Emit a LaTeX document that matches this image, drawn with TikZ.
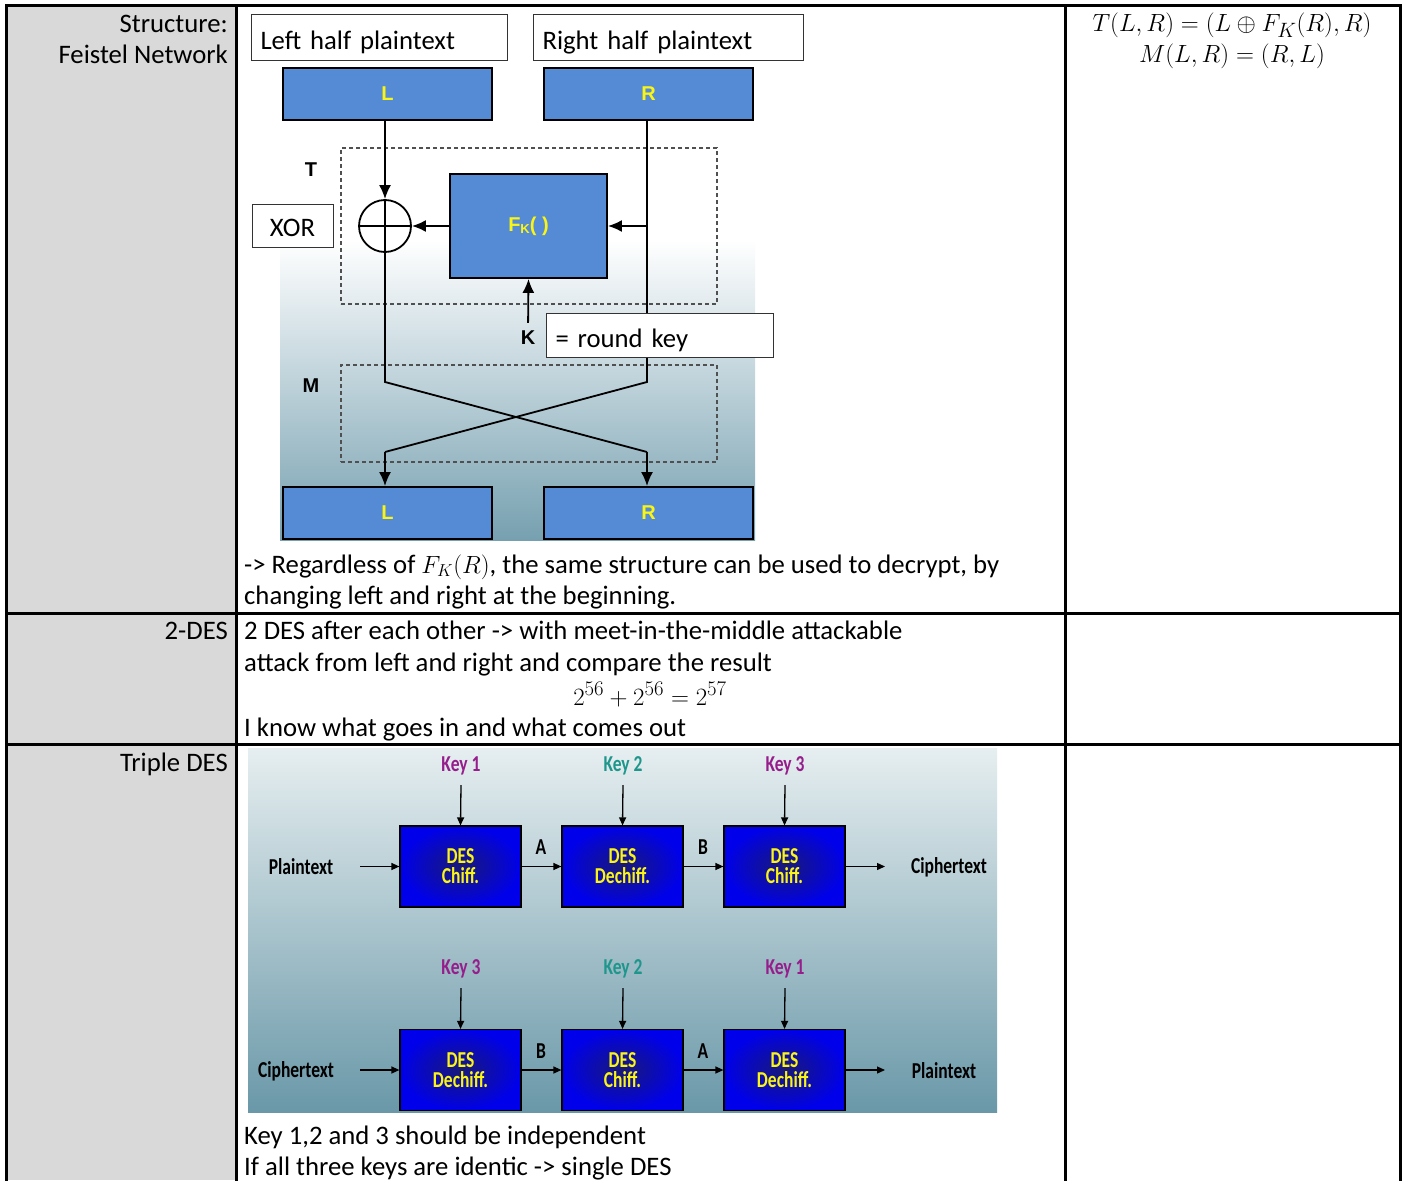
\documentclass[tikz,border=0pt]{standalone}
\usepackage[no-math]{fontspec}
\setmainfont{Carlito}
\newfontfamily\arialfont{Liberation Sans}
\usetikzlibrary{arrows.meta}

\definecolor{cellgray}{RGB}{217,217,217}
\definecolor{feistelblue}{RGB}{85,139,212}
\definecolor{labelyellow}{RGB}{250,245,20}
\definecolor{steelbot}{RGB}{118,160,176}
\definecolor{panelTop}{RGB}{230,238,240}
\definecolor{panelBot}{RGB}{106,152,168}
\definecolor{desblue}{RGB}{0,0,235}
\definecolor{desdark}{RGB}{25,25,120}
\definecolor{keypurple}{RGB}{150,30,140}
\definecolor{keyteal}{RGB}{30,150,140}
\definecolor{dashgray}{RGB}{80,80,80}

% vertically stretched label text for the triple DES scheme
\newcommand\tb[1]{\scalebox{1}[1.3]{#1}}

\tikzset{
  body/.style={font=\fontsize{26.7}{32}\selectfont, inner sep=0pt},
  cellhead/.style={body, anchor=base east},
  celltext/.style={body, anchor=base west},
  mathline/.style={font=\fontsize{27.5}{32}\selectfont, inner sep=0pt, anchor=base},
  tableline/.style={line width=3pt, line cap=rect},
  notebox/.style={draw=black!80, fill=white, line width=1pt, font=\fontsize{26.7}{32}\selectfont,
    inner xsep=9pt, inner ysep=0pt, align=left, text height=25pt, text depth=1pt},
  fblock/.style={draw=black, line width=1.8pt, fill=feistelblue, minimum width=209, minimum height=52,
    font=\arialfont\bfseries\fontsize{20}{22}\selectfont, text=labelyellow, inner sep=0pt},
  flabel/.style={font=\arialfont\bfseries\fontsize{20}{22}\selectfont, inner sep=0pt},
  fline/.style={line width=1.8pt},
  farrow/.style={line width=1.8pt, -{Latex[length=14pt,width=12pt]}},
  framebox/.style={draw=dashgray, line width=1.1pt, dash pattern=on 4pt off 3pt, inner sep=0pt},
  desbox/.style={draw=black, line width=1.2pt, minimum width=121, minimum height=81,
    inner color=desdark, outer color=desblue, text=labelyellow, align=center,
    font=\fontsize{17.5}{20}\selectfont\bfseries, inner sep=0pt},
  tlabel/.style={font=\fontsize{17.5}{20}\selectfont\bfseries, inner sep=0pt},
  tarrow/.style={line width=1.3pt, -{Triangle[length=8pt,width=7pt]}},
}

\begin{document}
\begin{tikzpicture}[x=1pt,y=-1pt]
\useasboundingbox (0,0) rectangle (1407,1180);
\fill[white] (0,0) rectangle (1407,1180);

% grey header column
\fill[cellgray] (6,6) rectangle (236,1180);

% ---------- row 1: Feistel network ----------
\node[cellhead] (hStruct) at (228,33) {Structure:};
\node[cellhead] (hFeistel) at (228,64) {Feistel Network};

\node[mathline] (eqT) at (1232,32) {$T(L,R) = (L \oplus F_K(R),R)$};
\node[mathline] (eqM) at (1232,63) {$M(L,R) = (R,L)$};

% shaded backdrop of the round
\shade[top color=white, bottom color=steelbot] (280,240) rectangle (755,540);

\node[notebox, minimum width=256, minimum height=46, text width=238, anchor=north west] (leftHalf) at (251,14) {Left half plaintext};
\node[notebox, minimum width=270, minimum height=46, text width=252, anchor=north west] (rightHalf) at (533,14) {Right half plaintext};

\node[fblock] (Ltop) at (387.5,94) {L};
\node[fblock] (Rtop) at (648.5,94) {R};
\node[fblock] (Lbot) at (387.5,513) {L};
\node[fblock] (Rbot) at (648.5,513) {R};

\node[framebox, minimum width=376, minimum height=156] (Tframe) at (529,226) {};
\node[framebox, minimum width=376, minimum height=97] (Mframe) at (529,413.5) {};
\node[flabel] (Tlab) at (311,170) {T};
\node[flabel] (Mlab) at (311,386) {M};

\node[fblock, minimum width=157, minimum height=104] (Fbox) at (528.5,226)
  {F\raisebox{-2pt}{\fontsize{13}{13}\selectfont K}( )};

\node[circle, draw, line width=1.8pt, fill=white, minimum size=52, inner sep=0pt] (xor) at (385,226) {};
\draw[fline] (xor.north) -- (xor.south) (xor.west) -- (xor.east);

\node[notebox, minimum width=81, minimum height=43, inner xsep=0pt, align=center, text height=23pt] (xorLab) at (292.5,225.5) {XOR};

\coordinate (rTurn) at (647,382);
\coordinate (lTurn) at (385,382);
\coordinate (lLand) at (385,452);
\coordinate (rLand) at (647,452);

\draw[farrow] (xor.north |- Ltop.south) -- (xor.north);
\draw[farrow] (Fbox.east -| rTurn) -- (Fbox.east);
\draw[farrow] (Fbox.west) -- (xor.east);
\draw[fline] (Rtop.south -| rTurn) -- (rTurn) -- (lLand);
\draw[farrow] (lLand) -- (Lbot.north -| lLand);
\draw[fline] (xor.south) -- (lTurn) -- (rLand);
\draw[farrow] (rLand) -- (Rbot.north -| rLand);

\node[flabel] (Klab) at (528,338) {K};
\draw[farrow, shorten <=8pt] (Klab.north) -- (Fbox.south);

\node[notebox, minimum width=227, minimum height=44, text width=209, anchor=north west] (roundKey) at (546,313) {= round key};

\node[celltext] (note1) at (244,573) {-> Regardless of $F_K(R)$, the same structure can be used to decrypt, by};
\node[celltext] (note2) at (244,604) {changing left and right at the beginning.};

% ---------- row 2: 2-DES ----------
\node[cellhead] (h2des) at (228,639) {2-DES};
\node[celltext] (d2a) at (244,639) {2 DES after each other -> with meet-in-the-middle attackable};
\node[celltext] (d2b) at (244,671) {attack from left and right and compare the result};
\node[mathline, font=\fontsize{31}{32}\selectfont] (d2c) at (650,705) {$2^{56}+2^{56}=2^{57}$};
\node[celltext] (d2d) at (244,736) {I know what goes in and what comes out};

% ---------- row 3: Triple DES ----------
\node[cellhead] (h3des) at (228,771) {Triple DES};

\shade[top color=panelTop, bottom color=panelBot] (248,748) rectangle (997,1112);

% encryption chain
\node[desbox] (e1) at (460.5,866.5) {\tb{DES}\\\tb{Chiff.}};
\node[desbox] (e2) at (622.5,866.5) {\tb{DES}\\\tb{Dechiff.}};
\node[desbox] (e3) at (784.5,866.5) {\tb{DES}\\\tb{Chiff.}};
\node[tlabel, text=keypurple] (ek1) at (461,766) {\tb{Key 1}};
\node[tlabel, text=keyteal] (ek2) at (623,766) {\tb{Key 2}};
\node[tlabel, text=keypurple] (ek3) at (785,766) {\tb{Key 3}};
\node[tlabel] (ePlain) at (301,867) {\tb{Plaintext}};
\node[tlabel] (eCipher) at (949,867) {\tb{Ciphertext}};
\node[tlabel] (eA) at (541,847) {\tb{A}};
\node[tlabel] (eB) at (703,847) {\tb{B}};
\coordinate (eIn) at (360,866.5);
\coordinate (eOut) at (885,866.5);
\draw[tarrow] (ek1.south |- 0,785) -- (e1.north);
\draw[tarrow] (ek2.south |- 0,785) -- (e2.north);
\draw[tarrow] (ek3.south |- 0,785) -- (e3.north);
\draw[tarrow] (eIn) -- (e1.west);
\draw[tarrow] (e1.east) -- (e2.west);
\draw[tarrow] (e2.east) -- (e3.west);
\draw[tarrow] (e3.east) -- (eOut);

% decryption chain
\node[desbox] (f1) at (460.5,1070) {\tb{DES}\\\tb{Dechiff.}};
\node[desbox] (f2) at (622.5,1070) {\tb{DES}\\\tb{Chiff.}};
\node[desbox] (f3) at (784.5,1070) {\tb{DES}\\\tb{Dechiff.}};
\node[tlabel, text=keypurple] (fk3) at (461,969) {\tb{Key 3}};
\node[tlabel, text=keyteal] (fk2) at (623,969) {\tb{Key 2}};
\node[tlabel, text=keypurple] (fk1) at (785,969) {\tb{Key 1}};
\node[tlabel] (fCipher) at (296,1071) {\tb{Ciphertext}};
\node[tlabel] (fPlain) at (944,1071) {\tb{Plaintext}};
\node[tlabel] (fB) at (541,1051) {\tb{B}};
\node[tlabel] (fA) at (703,1051) {\tb{A}};
\coordinate (fIn) at (360,1070);
\coordinate (fOut) at (885,1070);
\draw[tarrow] (fk3.south |- 0,988) -- (f1.north);
\draw[tarrow] (fk2.south |- 0,988) -- (f2.north);
\draw[tarrow] (fk1.south |- 0,988) -- (f3.north);
\draw[tarrow] (fIn) -- (f1.west);
\draw[tarrow] (f1.east) -- (f2.west);
\draw[tarrow] (f2.east) -- (f3.west);
\draw[tarrow] (f3.east) -- (fOut);

\node[celltext] (d3a) at (244,1144) {Key 1,2 and 3 should be independent};
\node[celltext] (d3b) at (244,1175) {If all three keys are identic -> single DES};

% ---------- table rules ----------
\draw[tableline] (6,6) -- (1400,6);
\draw[tableline] (6,613) -- (1400,613);
\draw[tableline] (6,744) -- (1400,744);
\draw[tableline] (6,6) -- (6,1180);
\draw[tableline] (236,6) -- (236,1180);
\draw[tableline] (1065,6) -- (1065,1180);
\draw[tableline] (1400,6) -- (1400,1180);
\end{tikzpicture}
\end{document}
